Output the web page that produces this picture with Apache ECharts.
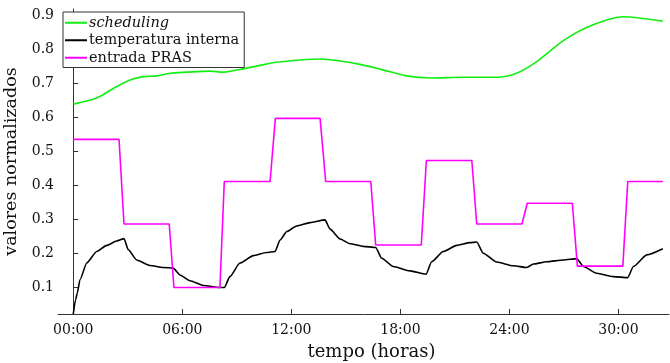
<!DOCTYPE html>
<html>
<head>
<meta charset="utf-8">
<script src="https://cdn.jsdelivr.net/npm/echarts@6/dist/echarts.min.js"></script>
<style>
  html, body { margin: 0; padding: 0; background: #fff; }
  #chart { width: 670px; height: 363px; }
</style>
</head>
<body>
<div id="chart"></div>
<script>
// Series names
const serieNomes = ['scheduling', 'temperatura interna', 'entrada PRAS'];

// scheduling (hours, normalized value)
const schedHoras = [0, 0.74, 1.38, 2.2, 3.12, 3.85, 4.59, 5.32, 6.24, 7.52, 8.26, 9.17, 10.28, 11.19,
  12.48, 13.58, 14.68, 15.78, 16.88, 18.35, 19.63, 21.46, 23.3, 24.4, 25.5, 26.97, 28.44, 30.27, 31.37, 32.44];
const schedValores = [0.640, 0.649, 0.660, 0.686, 0.711, 0.721, 0.723, 0.731, 0.734, 0.737, 0.734, 0.742, 0.754, 0.763,
  0.770, 0.773, 0.767, 0.757, 0.743, 0.723, 0.717, 0.719, 0.719, 0.731, 0.765, 0.827, 0.870, 0.897, 0.892, 0.884];

// temperatura interna
const tempHoras = [0, 0.13, 0.22, 0.37, 0.74, 1.29, 1.84, 2.39, 2.79, 3.03, 3.49, 4.22, 4.95, 5.5,
  5.87, 6.42, 7.15, 8.07, 8.31, 8.62, 9.17, 9.91, 10.64, 11.1, 11.38, 11.75, 12.29, 13.03, 13.85,
  14.13, 14.68, 15.23, 15.96, 16.64, 16.97, 17.61, 18.53, 19.41, 19.72, 20.36, 21.1, 21.83, 22.2,
  22.56, 23.3, 24.21, 24.95, 25.32, 26.05, 26.97, 27.7, 28.07, 28.8, 29.72, 30.51, 30.82, 31.56, 32.44];
const tempValores = [0.022, 0.064, 0.084, 0.123, 0.172, 0.206, 0.224, 0.237, 0.244, 0.211, 0.181, 0.165, 0.159, 0.157,
  0.137, 0.120, 0.106, 0.100, 0.100, 0.132, 0.172, 0.194, 0.203, 0.206, 0.240, 0.265, 0.281, 0.291, 0.299,
  0.272, 0.243, 0.229, 0.221, 0.218, 0.186, 0.162, 0.149, 0.139, 0.176, 0.206, 0.224, 0.232, 0.234,
  0.201, 0.175, 0.164, 0.159, 0.169, 0.176, 0.181, 0.185, 0.162, 0.142, 0.132, 0.129, 0.162, 0.196, 0.214];

// entrada PRAS (piecewise constant input)
const prasHoras = [0, 2.52, 2.79, 5.28, 5.54, 8.07, 8.31, 10.83, 11.12, 13.58, 13.89, 16.37, 16.64,
  19.15, 19.43, 21.93, 22.2, 24.69, 24.98, 27.46, 27.74, 30.24, 30.51, 32.44];
const prasValores = [0.536, 0.536, 0.287, 0.287, 0.100, 0.100, 0.412, 0.412, 0.598, 0.598, 0.412, 0.412, 0.225,
  0.225, 0.474, 0.474, 0.287, 0.287, 0.348, 0.348, 0.163, 0.163, 0.412, 0.412];

// Axis ticks
const xTicks = [0, 6, 12, 18, 24, 30];
const yTicks = [0.1, 0.2, 0.3, 0.4, 0.5, 0.6, 0.7, 0.8, 0.9];

const pares = (xs, ys) => xs.map((x, i) => [x, ys[i]]);
const serif = 'DejaVu Serif';
const axisColor = '#333';

const chart = echarts.init(document.getElementById('chart'), null, { renderer: 'canvas' });
chart.setOption({
  animation: false,
  backgroundColor: '#fff',
  grid: { left: 58, right: 1, top: 9, bottom: 49, containLabel: false, outerBoundsMode: 'none' },
  legend: {
    orient: 'vertical',
    left: 63, top: 12,
    padding: [2, 5, 1, 2],
    itemGap: 0,
    itemWidth: 22, itemHeight: 2,
    icon: 'rect',
    backgroundColor: '#fff',
    borderColor: '#333', borderWidth: 1,
    data: serieNomes,
    formatter: n => n === 'scheduling' ? '{i|' + n + '}' : n,
    textStyle: {
      fontFamily: serif, fontSize: 14.5, color: '#111', lineHeight: 17.5, padding: [0, 0, 0, -3],
      rich: { i: { fontStyle: 'italic', fontFamily: serif, fontSize: 14.5, color: '#111' } }
    }
  },
  xAxis: {
    type: 'value',
    min: -0.84, max: 32.78,
    name: 'tempo (horas)',
    nameLocation: 'middle', nameGap: 29,
    nameTextStyle: { fontFamily: serif, fontSize: 18, color: '#111', padding: [0, 0, 0, 16] },
    axisLine: { show: true, lineStyle: { color: axisColor, width: 1 } },
    axisTick: { show: true, inside: true, length: 5, customValues: xTicks, lineStyle: { color: axisColor } },
    axisLabel: {
      customValues: xTicks, margin: 9,
      fontFamily: serif, fontSize: 14, color: '#111',
      formatter: v => String(v).padStart(2, '0') + ':00'
    },
    splitLine: { show: false }
  },
  yAxis: {
    type: 'value',
    min: 0.022, max: 0.92,
    name: 'valores normalizados',
    nameLocation: 'middle', nameGap: 34,
    nameTextStyle: { fontFamily: serif, fontSize: 17.5, color: '#111' },
    axisLine: { show: true, lineStyle: { color: axisColor, width: 1 } },
    axisTick: { show: true, inside: true, length: 5, customValues: yTicks, lineStyle: { color: axisColor } },
    axisLabel: {
      customValues: yTicks, margin: 4,
      fontFamily: serif, fontSize: 14, color: '#111',
      formatter: v => v.toFixed(1)
    },
    splitLine: { show: false }
  },
  series: [
    {
      name: serieNomes[0], type: 'line', showSymbol: false, smooth: 0.3,
      data: pares(schedHoras, schedValores),
      lineStyle: { color: '#11ee11', width: 1.6 }, itemStyle: { color: '#11ee11' }
    },
    {
      name: serieNomes[1], type: 'line', showSymbol: false, smooth: 0.2, smoothMonotone: 'x',
      data: pares(tempHoras, tempValores),
      lineStyle: { color: '#000', width: 1.6 }, itemStyle: { color: '#000' }
    },
    {
      name: serieNomes[2], type: 'line', showSymbol: false,
      data: pares(prasHoras, prasValores),
      lineStyle: { color: '#ff00ff', width: 1.6 }, itemStyle: { color: '#ff00ff' }
    }
  ]
});
</script>
</body>
</html>
